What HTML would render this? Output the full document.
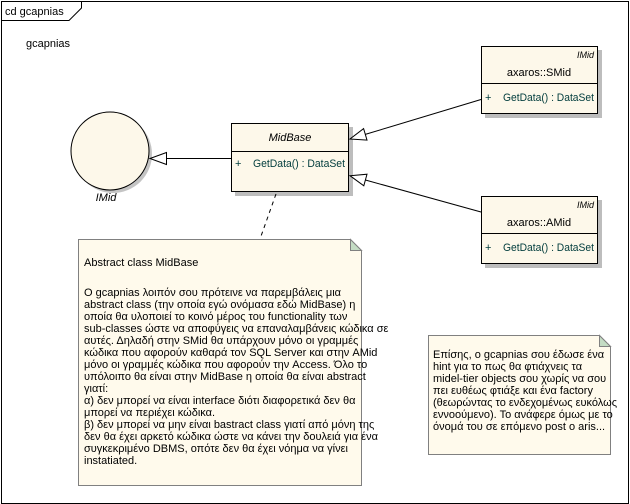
<!DOCTYPE html>
<html>
<head>
<meta charset="utf-8">
<style>
html,body{margin:0;padding:0;background:#fff;}
svg{display:block;}
text{font-family:"Liberation Sans","DejaVu Sans",sans-serif;font-size:11px;fill:#000;}
.it{font-style:italic;}
.op{fill:#003c3c;}
.sm{font-size:9px;font-style:italic;}
</style>
</head>
<body>
<svg width="630" height="504" viewBox="0 0 630 504" xmlns="http://www.w3.org/2000/svg">
  <!-- frame -->
  <rect x="1.5" y="1.5" width="627" height="502" fill="#fff" stroke="#000" stroke-width="1"/>
  <polyline points="1.5,20.5 69,20.5 81.5,8 81.5,1.5" fill="none" stroke="#000" stroke-width="1"/>
  <text x="5" y="15">cd gcapnias</text>
  <text x="26" y="47">gcapnias</text>

  <!-- Interface circle -->
  <circle cx="113" cy="154" r="39" fill="#c4c4c4"/>
  <circle cx="110" cy="151" r="39" fill="#fdf8ea" stroke="#000" stroke-width="1"/>
  <text x="106" y="201" text-anchor="middle" class="it">IMid</text>

  <!-- realization arrow MidBase -> IMid -->
  <line x1="231" y1="158.5" x2="166" y2="158.5" stroke="#000" stroke-width="1"/>
  <polygon points="150,158.5 166.5,152.5 166.5,164.5" fill="#fff" stroke="#000" stroke-width="1"/>

  <!-- MidBase -->
  <rect x="235" y="127" width="118" height="69" fill="#bdbdbd"/>
  <rect x="231.5" y="123.5" width="117" height="68" fill="#fdf8ea" stroke="#000" stroke-width="1"/>
  <line x1="231.5" y1="151.5" x2="348.5" y2="151.5" stroke="#000" stroke-width="1"/>
  <text x="290" y="141" text-anchor="middle" class="it">MidBase</text>
  <text x="235" y="167" class="op">+</text>
  <text x="253" y="167" class="op" textLength="92" lengthAdjust="spacingAndGlyphs">GetData() : DataSet</text>

  <!-- SMid -->
  <rect x="485" y="50" width="117" height="68" fill="#bdbdbd"/>
  <rect x="481.5" y="46.5" width="116" height="67" fill="#fdf8ea" stroke="#000" stroke-width="1"/>
  <line x1="481.5" y1="83.5" x2="597.5" y2="83.5" stroke="#000" stroke-width="1"/>
  <text x="594" y="58" text-anchor="end" class="sm">IMid</text>
  <text x="539" y="76" text-anchor="middle">axaros::SMid</text>
  <text x="485" y="101" class="op">+</text>
  <text x="503" y="101" class="op" textLength="91" lengthAdjust="spacingAndGlyphs">GetData() : DataSet</text>

  <!-- AMid -->
  <rect x="485" y="200" width="117" height="68" fill="#bdbdbd"/>
  <rect x="481.5" y="196.5" width="116" height="67" fill="#fdf8ea" stroke="#000" stroke-width="1"/>
  <line x1="481.5" y1="233.5" x2="597.5" y2="233.5" stroke="#000" stroke-width="1"/>
  <text x="594" y="208" text-anchor="end" class="sm">IMid</text>
  <text x="539" y="226" text-anchor="middle">axaros::AMid</text>
  <text x="485" y="251" class="op">+</text>
  <text x="503" y="251" class="op" textLength="91" lengthAdjust="spacingAndGlyphs">GetData() : DataSet</text>

  <!-- generalization arrows -->
  <line x1="481" y1="99.5" x2="365.3" y2="134.4" stroke="#000" stroke-width="1"/>
  <polygon points="350,139 367,140.1 363.6,128.6" fill="#fff" stroke="#000" stroke-width="1"/>
  <line x1="481" y1="212" x2="365.4" y2="180" stroke="#000" stroke-width="1"/>
  <polygon points="350,175.7 367,174.2 363.8,185.8" fill="#fff" stroke="#000" stroke-width="1"/>

  <!-- dashed note link -->
  <line x1="276" y1="194" x2="260" y2="239" stroke="#000" stroke-width="1" stroke-dasharray="4,4"/>

  <!-- Note 1 -->
  <polygon points="78.5,239.5 350.5,239.5 361.5,250.5 361.5,485.5 78.5,485.5" fill="#fffaec" stroke="#808080" stroke-width="1"/>
  <polygon points="350.5,239.5 350.5,250.5 361.5,250.5" fill="#c4dcc4" stroke="#808080" stroke-width="1"/>
  <text x="84" y="266">Abstract class MidBase</text>
  <text x="84" y="296">O gcapnias λοιπόν σου πρότεινε να παρεμβάλεις μια</text>
  <text x="84" y="308">abstract class (την οποία εγώ ονόμασα εδώ MidBase) η</text>
  <text x="84" y="320">οποία θα υλοποιεί το κοινό μέρος του functionality των</text>
  <text x="84" y="332">sub-classes ώστε να αποφύγεις να επαναλαμβάνεις κώδικα σε</text>
  <text x="84" y="344">αυτές. Δηλαδή στην SMid θα υπάρχουν μόνο οι γραμμές</text>
  <text x="84" y="356">κώδικα που αφορούν καθαρά τον SQL Server και στην AMid</text>
  <text x="84" y="368">μόνο οι γραμμές κώδικα που αφορούν την Access. Όλο το</text>
  <text x="84" y="380">υπόλοιπο θα είναι στην MidBase η οποία θα είναι abstract</text>
  <text x="84" y="392">γιατί:</text>
  <text x="84" y="404">α) δεν μπορεί να είναι interface διότι διαφορετικά δεν θα</text>
  <text x="84" y="416">μπορεί να περιέχει κώδικα.</text>
  <text x="84" y="428">β) δεν μπορεί να μην είναι bastract class γιατί από μόνη της</text>
  <text x="84" y="440">δεν θα έχει αρκετό κώδικα ώστε να κάνει την δουλειά για ένα</text>
  <text x="84" y="452">συγκεκριμένο DBMS, οπότε δεν θα έχει νόημα να γίνει</text>
  <text x="84" y="464">instatiated.</text>

  <!-- Note 2 -->
  <polygon points="428.5,335.5 599.5,335.5 610.5,346.5 610.5,454.5 428.5,454.5" fill="#fffaec" stroke="#808080" stroke-width="1"/>
  <polygon points="599.5,335.5 599.5,346.5 610.5,346.5" fill="#c4dcc4" stroke="#808080" stroke-width="1"/>
  <text x="433" y="358">Επίσης, ο gcapnias σου έδωσε ένα</text>
  <text x="433" y="370">hint για το πως θα φτιάχνεις τα</text>
  <text x="433" y="382">midel-tier objects σου χωρίς να σου</text>
  <text x="433" y="394">πει ευθέως φτιάξε και ένα factory</text>
  <text x="433" y="406">(θεωρώντας το ενδεχομένως ευκόλως</text>
  <text x="433" y="418">εννοούμενο). Το ανάφερε όμως με το</text>
  <text x="433" y="430">όνομά του σε επόμενο post ο aris...</text>
</svg>
</body>
</html>
